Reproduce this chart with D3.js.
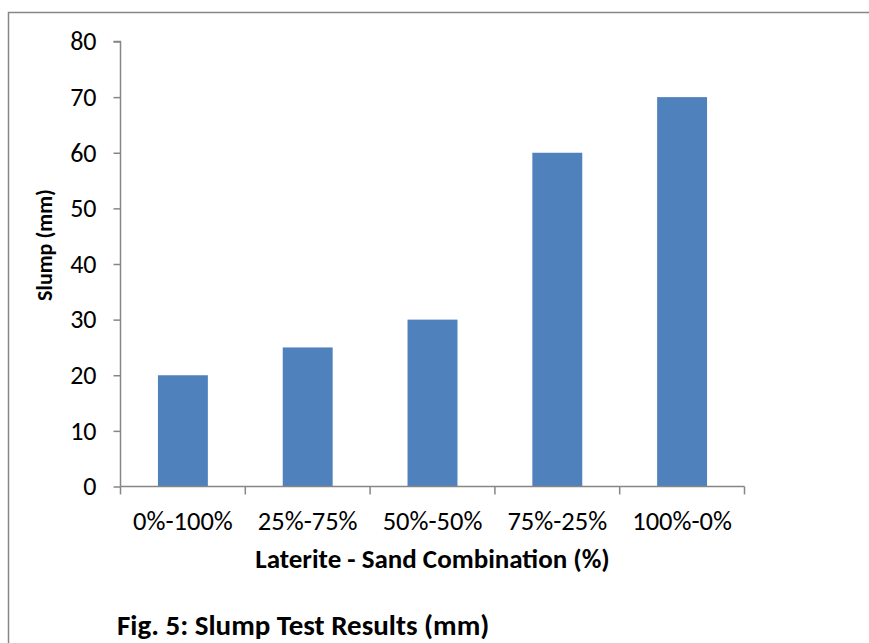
<!doctype html>
<html>
<head>
<script src="https://d3js.org/d3.v7.min.js"></script>
<style>
  body { margin: 0; background: #fff; }
  text { font-family: Calibri, Carlito, "Open Sans", sans-serif; fill: #000; }
</style>
</head>
<body>
<script>
// chart data
var categories = ["0%-100%", "25%-75%", "50%-50%", "75%-25%", "100%-0%"];
var slumpValues = [20, 25, 30, 60, 70];
var yTicks = [0, 10, 20, 30, 40, 50, 60, 70, 80];

var width = 869, height = 643;
var plot = {left: 120.5, right: 744.5, top: 41.5, bottom: 486.5};

var svg = d3.select("body").append("svg")
    .attr("width", width)
    .attr("height", height);

// outer frame
svg.append("rect")
    .attr("x", 8.5).attr("y", 12.5)
    .attr("width", 880).attr("height", 660)
    .attr("fill", "none")
    .attr("stroke", "#868686")
    .attr("stroke-width", 1.5);

var xScale = d3.scaleBand()
    .domain(categories)
    .range([plot.left, plot.right])
    .paddingInner(0.6)
    .paddingOuter(0.3);

var xTickScale = d3.scaleLinear()
    .domain([0, categories.length])
    .range([plot.left, plot.right]);

var yScale = d3.scaleLinear()
    .domain([0, 80])
    .range([plot.bottom, plot.top]);

// bars
svg.selectAll(".bar")
  .data(slumpValues)
  .enter().append("rect")
    .attr("class", "bar")
    .attr("x", (d, i) => xScale(categories[i]))
    .attr("y", d => yScale(d))
    .attr("width", xScale.bandwidth())
    .attr("height", d => yScale(0) - yScale(d))
    .attr("fill", "#4f81bd");

// y axis
var yAxis = d3.axisLeft(yScale)
    .tickValues(yTicks)
    .tickSize(7)
    .tickPadding(17);
var gy = svg.append("g")
    .attr("transform", `translate(${plot.left},0)`)
    .call(yAxis);
gy.selectAll("path, line").attr("stroke", "#868686").attr("stroke-width", 1.5);
gy.select(".domain").attr("d", `M-7,${plot.top}H0V${plot.bottom}`);
gy.selectAll("text")
    .style("font-size", "26px")
    .style("font-family", "Calibri, Carlito, 'Open Sans', sans-serif")
    .attr("fill", "#000");

// x axis: ticks at band boundaries
var gx = svg.append("g")
    .attr("transform", `translate(0,${plot.bottom})`);
gx.append("line")
    .attr("x1", plot.left).attr("x2", plot.right)
    .attr("stroke", "#868686").attr("stroke-width", 1.5);
gx.selectAll(".tick")
  .data(d3.range(categories.length + 1))
  .enter().append("line")
    .attr("x1", d => xTickScale(d)).attr("x2", d => xTickScale(d))
    .attr("y1", 0).attr("y2", 8)
    .attr("stroke", "#868686").attr("stroke-width", 1.5);
gx.selectAll(".label")
  .data(categories)
  .enter().append("text")
    .attr("x", d => xScale(d) + xScale.bandwidth() / 2)
    .attr("y", 43.5)
    .attr("text-anchor", "middle")
    .style("font-size", "26.5px")
    .text(d => d);

// axis titles
svg.append("text")
    .attr("transform", "translate(52,245) rotate(-90)")
    .attr("text-anchor", "middle")
    .style("font-size", "22px")
    .style("font-weight", "bold")
    .text("Slump (mm)");

svg.append("text")
    .attr("x", (plot.left + plot.right) / 2)
    .attr("y", 568)
    .attr("text-anchor", "middle")
    .style("font-size", "27px")
    .style("font-weight", "bold")
    .text("Laterite - Sand Combination (%)");

// caption
svg.append("text")
    .attr("x", 117)
    .attr("y", 635)
    .style("font-size", "29px")
    .style("font-weight", "bold")
    .text("Fig. 5: Slump Test Results (mm)");
</script>
</body>
</html>
